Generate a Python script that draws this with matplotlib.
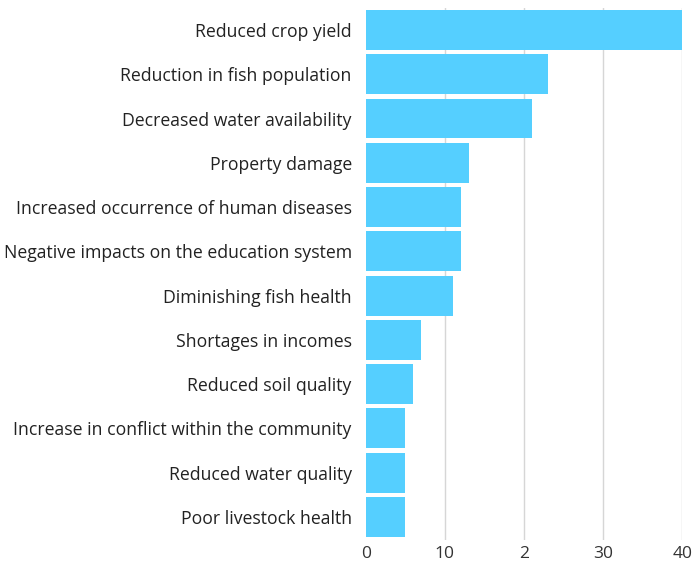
import matplotlib.pyplot as plt

# impacts and counts, top to bottom
impacts = [
    "Reduced crop yield",
    "Reduction in fish population",
    "Decreased water availability",
    "Property damage",
    "Increased occurrence of human diseases",
    "Negative impacts on the education system",
    "Diminishing fish health",
    "Shortages in incomes",
    "Reduced soil quality",
    "Increase in conflict within the community",
    "Reduced water quality",
    "Poor livestock health",
]
counts = [40, 23, 21, 13, 12, 12, 11, 7, 6, 5, 5, 5]
xticks = [0, 10, 20, 30, 40]
xtick_labels = ["0", "10", "2", "30", "40"]

plt.rcParams["font.family"] = ["Open Sans", "DejaVu Sans"]

fig = plt.figure(figsize=(6.94, 5.63), dpi=100)
ax = fig.add_axes([0.527, 0.041, 0.456, 0.945])

ypos = list(range(len(impacts)))
ax.barh(ypos, counts, height=0.9, color="#55cfff", zorder=2)

ax.set_yticks(ypos)
ax.set_yticklabels(impacts, fontsize=12.7, color="#222222")
ax.set_xticks(xticks)
ax.set_xticklabels(xtick_labels, fontsize=12.5, color="#333333")
ax.set_xlim(0, 40)
ax.set_ylim(11.52, -0.5)

for v in xticks[1:]:
    ax.axvline(v, color="#d6d6d6", lw=1, zorder=1)

ax.tick_params(axis="y", length=0, pad=10)
ax.tick_params(axis="x", length=0, pad=4.5)
for s in ax.spines.values():
    s.set_visible(False)

fig.savefig("out.png", dpi=100)
